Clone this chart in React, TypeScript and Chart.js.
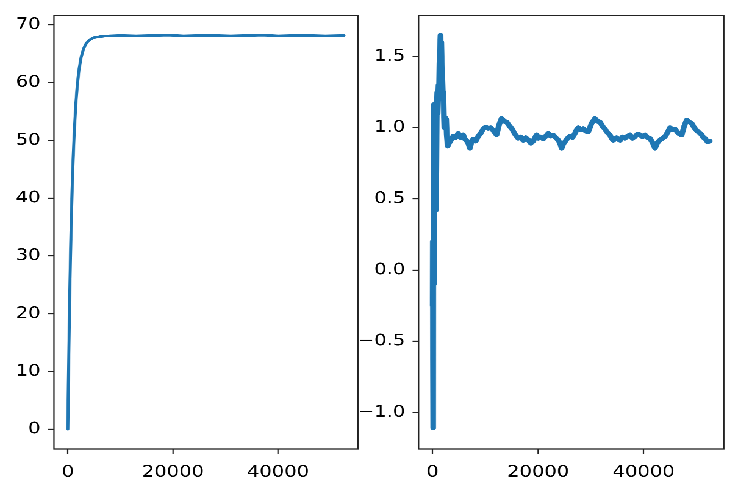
import React, { useEffect, useRef } from 'react';
import { Chart, registerables } from 'chart.js';

Chart.register(...registerables);

// ---- data ----
const xTicks = [0, 20000, 40000];
const leftYTicks = [0, 10, 20, 30, 40, 50, 60, 70];
const rightYTicks = [-1.0, -0.5, 0.0, 0.5, 1.0, 1.5];

const leftX = [0, 100, 200, 300, 400, 500, 600, 800, 1000, 1200, 1500, 1800, 2100, 2500, 3000, 3500, 4000, 4500, 5000, 6000, 7000, 8000, 10000, 13000, 16000, 19000, 22000, 25000, 28000, 31000, 34000, 37000, 40000, 43000, 46000, 49000, 52540];
const leftY = [0, 7.5, 14.1, 20.0, 25.3, 30.0, 34.2, 41.2, 46.7, 51.1, 56.1, 59.6, 62.1, 64.3, 65.9, 66.8, 67.3, 67.6, 67.8, 67.95, 68.05, 68.1, 68.15, 68.1, 68.15, 68.2, 68.1, 68.15, 68.15, 68.1, 68.15, 68.2, 68.1, 68.15, 68.15, 68.1, 68.15];

const rightX = [0, 40, 80, 120, 160, 200, 260, 320, 400, 480, 560, 640, 720, 800, 880, 960, 1040, 1120, 1200, 1300, 1400, 1500, 1580, 1660, 1740, 1820, 1900, 1980, 2060, 2140, 2220, 2300, 2400, 2500, 2580, 2680, 2780, 2880, 2960,
  3430, 3910, 4380, 4855, 5330, 5800, 6120, 6440, 6760, 7070, 7380, 7700, 8170, 8650, 9120, 9590, 10060, 10540, 11010, 11490, 11800, 12130, 12600, 13080, 13550, 14030, 14500, 14980, 15600, 16230, 16700, 17180, 17650, 18130, 18600, 19070, 19400, 19720,
  20020, 20500, 20970, 21450, 21920, 22400, 22870, 23340, 23810, 24140, 24460, 24770, 25080, 25550, 26030, 26500, 26980, 27300, 27610, 28080, 28550, 29020, 29500, 30130, 30770, 31240, 31720, 32200, 32670, 33140, 33620, 33930, 34240, 34870, 35510, 35980, 36460, 36930, 37410, 37880,
  38360, 38830, 39300, 39780, 40250, 40720, 41200, 41680, 42150, 42620, 43100, 43570, 44050, 44520, 44990, 45460, 45940, 46570, 47210, 47680, 48160, 48630, 49110, 49580, 50050, 50530, 51000, 51320, 51630, 52100, 52540];
const rightY = [-0.25, 0.2, -0.6, -1.11, 0.3, 1.16, -0.1, 1.12, 0.6, 1.17, 0.75, 0.42, 0.7, 1.15, 1.25, 1.1, 1.22, 1.3, 1.2, 1.45, 1.55, 1.65, 1.55, 1.6, 1.45, 1.4, 1.3, 1.2, 1.25, 1.1, 1.0, 1.05, 1.07, 1.0, 1.06, 0.95, 0.9, 0.87, 0.88,
  0.91, 0.94, 0.93, 0.96, 0.93, 0.95, 0.92, 0.91, 0.89, 0.855, 0.9, 0.92, 0.905, 0.94, 0.96, 0.99, 1.005, 0.995, 1.0, 0.98, 0.965, 0.95, 1.02, 1.065, 1.045, 1.04, 1.015, 0.995, 0.955, 0.925, 0.935, 0.91, 0.93, 0.915, 0.89, 0.905, 0.93, 0.95,
  0.925, 0.935, 0.92, 0.94, 0.96, 0.94, 0.948, 0.93, 0.913, 0.89, 0.855, 0.885, 0.9, 0.925, 0.94, 0.93, 0.96, 0.985, 1.0, 0.985, 0.993, 0.975, 0.97, 1.03, 1.065, 1.045, 1.04, 1.01, 0.99, 0.965, 0.948, 0.925, 0.91, 0.93, 0.91, 0.935, 0.925, 0.94, 0.95, 0.925,
  0.937, 0.955, 0.95, 0.935, 0.95, 0.93, 0.925, 0.895, 0.855, 0.895, 0.913, 0.925, 0.937, 0.965, 1.0, 0.985, 0.99, 0.96, 0.948, 1.01, 1.054, 1.04, 1.03, 1.0, 0.98, 0.965, 0.95, 0.93, 0.925, 0.9, 0.906];

// ---- layout (internal px; stretched horizontally) ----
const INNER_W = 605;
const STRETCH = 738 / INNER_W;
const H = 496;
const FONT = { family: 'DejaVu Sans', size: 16 };
const INK = '#222';

const framePlugin = {
  id: 'frame',
  afterDraw(chart: any) {
    const { ctx, chartArea: a } = chart;
    ctx.save();
    ctx.strokeStyle = INK;
    ctx.lineWidth = 1.1;
    ctx.strokeRect(a.left, a.top, a.right - a.left, a.bottom - a.top);
    ctx.restore();
  },
};

function makeConfig(xs: number[], ys: number[], yTicks: number[], yMin: number, yMax: number, yWidth: number, padRight: number, lineW: number, fmt: (v: number) => string) {
  const tickGrid = { display: true, drawOnChartArea: false, drawTicks: true, tickLength: 5, tickWidth: 1.1, tickColor: INK };
  return {
    type: 'line' as const,
    data: {
      datasets: [{
        data: xs.map((x, i) => ({ x, y: ys[i] })),
        borderColor: '#1f77b4',
        borderWidth: lineW,
        borderJoinStyle: 'round',
        borderCapStyle: 'round',
        pointRadius: 0,
        tension: 0.0001,
        fill: false,
      }],
    },
    options: {
      animation: false,
      responsive: false,
      devicePixelRatio: 3,
      events: [],
      layout: { padding: { left: 0, right: padRight, top: 14, bottom: 0 } },
      plugins: { legend: { display: false }, tooltip: { enabled: false }, title: { display: false } },
      scales: {
        x: {
          type: 'linear',
          min: -2640,
          max: 55200,
          afterBuildTicks: (s: any) => { s.ticks = xTicks.map((v) => ({ value: v })); },
          afterFit: (s: any) => { s.height = 47; },
          grid: tickGrid,
          border: { display: false },
          ticks: { color: '#000', font: FONT, padding: 9, maxRotation: 0, autoSkip: false, callback: (v: any) => String(v) },
        },
        y: {
          type: 'linear',
          min: yMin,
          max: yMax,
          afterBuildTicks: (s: any) => { s.ticks = yTicks.map((v) => ({ value: v })); },
          afterFit: (s: any) => { s.width = yWidth; },
          grid: tickGrid,
          border: { display: false },
          ticks: { color: '#000', font: FONT, padding: 6, autoSkip: false, callback: (v: any) => fmt(Number(v)) },
        },
      },
    },
    plugins: [framePlugin],
  };
}

export default function App() {
  const leftRef = useRef<HTMLCanvasElement>(null);
  const rightRef = useRef<HTMLCanvasElement>(null);

  useEffect(() => {
    const c1 = new Chart(leftRef.current as HTMLCanvasElement, makeConfig(
      leftX, leftY, leftYTicks, -3.42, 71.6, 44.26, 300 - 293.44, 2.5, (v) => String(Math.round(v))
    ) as any);
    const c2 = new Chart(rightRef.current as HTMLCanvasElement, makeConfig(
      rightX, rightY, rightYTicks, -1.257, 1.787, 53.2, 315 - 303.4, 4.6, (v) => v.toFixed(1).replace('-', '\u2212')
    ) as any);
    return () => { c1.destroy(); c2.destroy(); };
  }, []);

  return (
    <div style={{ position: 'fixed', left: 0, top: 0, width: 738, height: H, background: '#fff', overflow: 'hidden' }}>
      <div style={{ position: 'absolute', left: 0, top: 0, width: INNER_W, height: H, transform: `scaleX(${STRETCH})`, transformOrigin: '0 0' }}>
        <canvas ref={leftRef} width={300} height={H} style={{ position: 'absolute', left: 0, top: 0, width: 300, height: H }} />
        <canvas ref={rightRef} width={315} height={H} style={{ position: 'absolute', left: 290, top: 0, width: 315, height: H }} />
      </div>
    </div>
  );
}
